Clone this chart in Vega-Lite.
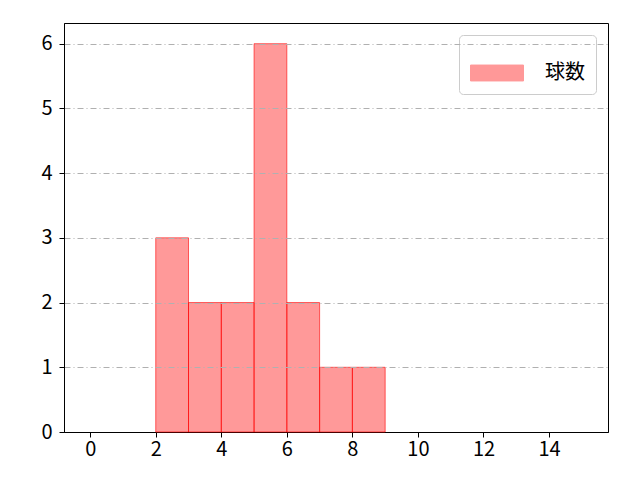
{
  "$schema": "https://vega.github.io/schema/vega-lite/v6.json",
  "width": 544,
  "height": 409,
  "autosize": {"type": "none"},
  "padding": {"left": 64, "top": 23, "right": 32, "bottom": 48},
  "background": "white",
  "config": {
    "view": {"stroke": "black", "strokeWidth": 1},
    "font": "Noto Sans CJK JP"
  },
  "data": {
    "values": [
      {"lo": 2, "hi": 3, "count": 3, "series": "球数"},
      {"lo": 3, "hi": 4, "count": 2, "series": "球数"},
      {"lo": 4, "hi": 5, "count": 2, "series": "球数"},
      {"lo": 5, "hi": 6, "count": 6, "series": "球数"},
      {"lo": 6, "hi": 7, "count": 2, "series": "球数"},
      {"lo": 7, "hi": 8, "count": 1, "series": "球数"},
      {"lo": 8, "hi": 9, "count": 1, "series": "球数"}
    ]
  },
  "mark": {
    "type": "bar",
    "fillOpacity": 0.4,
    "stroke": "red",
    "strokeOpacity": 0.6,
    "strokeWidth": 1
  },
  "encoding": {
    "x": {
      "field": "lo",
      "type": "quantitative",
      "scale": {"domain": [-0.8, 15.8], "nice": false, "zero": false},
      "axis": {
        "values": [0, 2, 4, 6, 8, 10, 12, 14],
        "title": null,
        "grid": false,
        "domainColor": "black",
        "tickColor": "black",
        "tickSize": 5,
        "labelColor": "black",
        "labelFontSize": 20,
        "labelPadding": 2,
        "labelFlush": false
      }
    },
    "x2": {"field": "hi"},
    "y": {
      "field": "count",
      "type": "quantitative",
      "scale": {"domain": [0, 6.32], "nice": false},
      "axis": {
        "values": [0, 1, 2, 3, 4, 5, 6],
        "title": null,
        "grid": true,
        "gridColor": "#b0b0b0",
        "gridDash": [6, 3, 1, 3],
        "gridWidth": 1,
        "gridOpacity": {"condition": {"test": "datum.value === 0", "value": 0}, "value": 1},
        "zindex": 1,
        "domainColor": "black",
        "tickColor": "black",
        "tickSize": 5,
        "labelColor": "black",
        "labelFontSize": 20,
        "labelPadding": 7,
        "labelFlush": false
      }
    },
    "y2": {"datum": 0},
    "color": {
      "field": "series",
      "type": "nominal",
      "scale": {"range": ["red"]},
      "legend": {
        "title": null,
        "orient": "top-right",
        "offset": 12,
        "symbolType": "M-1,-0.3H1V0.3H-1Z",
        "symbolSize": 2809,
        "symbolOpacity": 0.4,
        "symbolStrokeColor": "red",
        "symbolStrokeWidth": 1,
        "labelFontSize": 20,
        "labelColor": "black",
        "labelOffset": 21,
        "strokeColor": "#cccccc",
        "cornerRadius": 4,
        "padding": 11,
        "fillColor": "white"
      }
    }
  }
}
